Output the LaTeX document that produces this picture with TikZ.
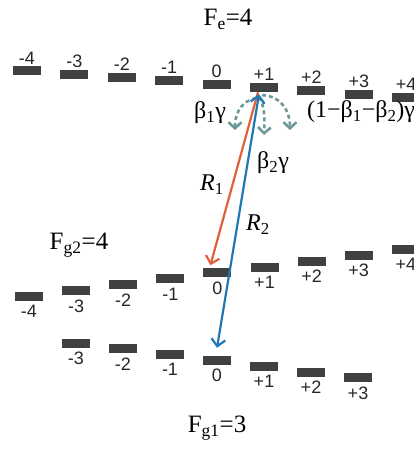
\documentclass[tikz,border=0pt]{standalone}
\usepackage{fontspec}
\setmainfont{Liberation Serif}
\newfontfamily\digitfont{Liberation Sans}
\usepackage{tikz}
\usetikzlibrary{arrows.meta}
\definecolor{bargray}{HTML}{404040}
\definecolor{pumpred}{HTML}{E0603A}
\definecolor{probeblue}{HTML}{1F78B4}
\definecolor{decayteal}{HTML}{6E9898}

\begin{document}
\begin{tikzpicture}[x=1pt,y=-1pt,
    level/.style={fill=bargray,minimum width=28pt,minimum height=9pt,inner sep=0pt},
    mlabel/.style={font=\digitfont\fontsize{18}{18}\selectfont,text=black!85,inner sep=1pt},
    title/.style={font=\fontsize{25}{25}\selectfont,inner sep=1pt},
    rate/.style={font=\fontsize{24}{24}\selectfont,inner sep=1pt},
    laser/.style={line width=2.2pt},
    decay/.style={decayteal,line width=2.6pt,dash pattern=on 4pt off 3pt,
      -{Straight Barb[length=6pt,width=13pt]}}]
    \useasboundingbox (0,0) rectangle (414,449);

    \node[title] (fe) at (228,19) {F\textsubscript{e}=4};
    \foreach \m in {-4,...,4}{
      \node[level] (ex\m) at ({27+47.4*(\m+4)},{71+3.3*(\m+4)}) {};
      \node[mlabel,anchor=south] (lex\m) at ([yshift=1pt]ex\m.north) {\ifnum\m>0 +\fi\m};
    }

    \node[title] (fgtwo) at (79,245) {F\textsubscript{g2}=4};
    \foreach \m in {-4,...,4}{
      \node[level] (gtwo\m) at ({29+47.1*(\m+4)},{296.5-5.9*(\m+4)}) {};
      \node[mlabel,anchor=north] (lgtwo\m) at ([yshift=-3pt]gtwo\m.south) {\ifnum\m>0 +\fi\m};
    }

    \node[title] (fgone) at (217,428) {F\textsubscript{g1}=3};
    \foreach \m in {-3,...,3}{
      \node[level] (gone\m) at ({76+47*(\m+3)},{343+5.83*(\m+3)}) {};
      \node[mlabel,anchor=north] (lgone\m) at ([yshift=-3pt]gone\m.south) {\ifnum\m>0 +\fi\m};
    }

    \coordinate (dl) at (235,130);
    \coordinate (dm) at (264,135);
    \coordinate (dr) at (290,130);
    \draw[decay] ([xshift=-8pt,yshift=-6pt]ex1.south) .. controls +(-12,2) and +(0,-20) .. (dl);
    \draw[decay] ([xshift=-5pt,yshift=-5pt]ex1.south) .. controls +(5,8) and +(1,-20) .. (dm);
    \draw[decay] ([xshift=-2pt,yshift=-3pt]ex1.south) .. controls +(16,0) and +(0,-22) .. (dr);

    \draw[laser,pumpred,-{Straight Barb[length=7pt,width=14pt]}]
      ([xshift=-6pt]ex1.south) -- ([xshift=-7pt,yshift=3pt]gtwo0.north);
    \draw[laser,probeblue,{Straight Barb[length=7pt,width=14pt]}-{Straight Barb[length=7pt,width=14pt]}]
      ([xshift=-5pt,yshift=-2pt]ex1.south) -- ([yshift=8pt]gone0.north);

    \node[rate] (bone) at (210,113) {β\textsubscript{1}γ};
    \node[rate] (btwo) at (273,163) {β\textsubscript{2}γ};
    \node[rate,anchor=west] (brest) at (306,112) {(1−β\textsubscript{1}−β\textsubscript{2})γ};
    \node[rate] (rone) at (212,185) {\textit{R}\textsubscript{1}};
    \node[rate] (rtwo) at (258,225) {\textit{R}\textsubscript{2}};
  \end{tikzpicture}
\end{document}
